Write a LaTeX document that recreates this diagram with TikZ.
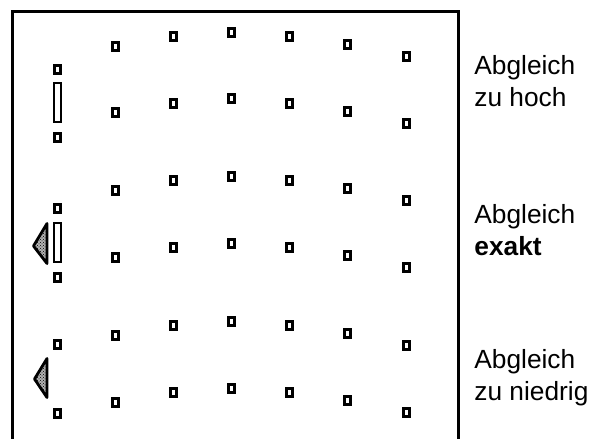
\documentclass[tikz,border=0pt]{standalone}
\usepackage{fontspec}
\setsansfont{Liberation Sans}
\usetikzlibrary{patterns}

\begin{document}
\begin{tikzpicture}[x=1pt, y=-1pt, thick]
    % Estilos para los elementos
    \tikzstyle{pad} = [draw, rectangle, line width=3pt, minimum width=6pt, minimum height=8pt, inner sep=0pt]
    \tikzstyle{slot} = [draw, rectangle, line width=2.4pt, minimum width=6.6pt, minimum height=39pt, inner sep=0pt]
    \tikzstyle{wedge} = [draw, line width=2.8pt, line join=round, preaction={fill=black!30}, pattern=crosshatch dots]
    \tikzstyle{txt} = [font=\sffamily\fontsize{26.3}{31.5}\selectfont, align=left, inner sep=0pt, anchor=base west]

    \useasboundingbox (0,0) rectangle (592,439);

    % --- Marco ---
    \draw[line width=3pt] (12,441) -- (12,11) -- (458,11) -- (458,441);

    % --- Rejilla de puntos (6 filas, 6 columnas) ---
    \foreach \r/\y in {1/32, 2/98.5, 3/176, 4/243, 5/321, 6/388}
        \foreach \c/\x/\d in {1/115/14, 2/173.2/4.5, 3/231.4/0, 4/289.6/4.5, 5/347.8/12.5, 6/406/24.5}
            \node[pad] (p-\r-\c) at (\x,\y+\d) {};

    % --- Indicadores a la izquierda ---
    % Abgleich zu hoch
    \node[pad] (hoch-top) at (57.5,69) {};
    \node[slot] (hoch-bar) at (57.5,102.5) {};
    \node[pad] (hoch-bot) at (57.5,137) {};
    % Abgleich exakt
    \node[pad] (exakt-top) at (57.5,208) {};
    \node[slot] (exakt-bar) at (57.5,242.5) {};
    \node[pad] (exakt-bot) at (57.5,277) {};
    \draw[wedge] (33.5,246) -- (47,223.5) -- (47,263.5) -- cycle;
    % Abgleich zu niedrig
    \node[pad] (niedrig-top) at (57.5,344) {};
    \node[pad] (niedrig-bot) at (57.5,413) {};
    \draw[wedge] (34.5,379) -- (47,358.5) -- (47,397.5) -- cycle;

    % --- Textos (base = ultima linea) ---
    \node[txt] (hoch) at (474,106) {Abgleich\\zu hoch};
    \node[txt] (exakt) at (474,255) {Abgleich\\\textbf{exakt}};
    \node[txt] (niedrig) at (474,400) {Abgleich\\zu niedrig};

\end{tikzpicture}
\end{document}
